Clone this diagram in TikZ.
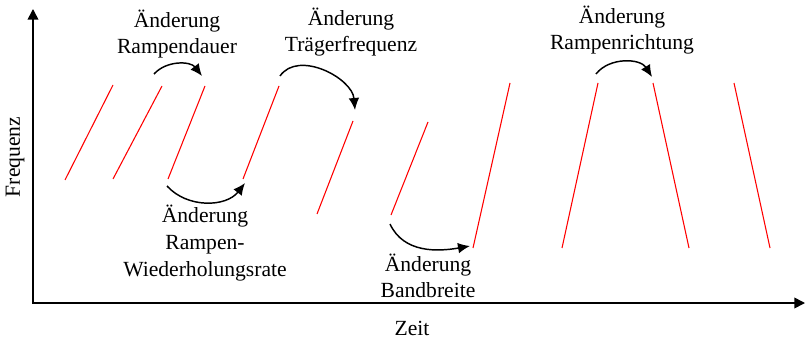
\documentclass[tikz,border=0pt]{standalone}
\usepackage{fontspec}
\setmainfont{Liberation Serif}
\usepackage{tikz}
\usetikzlibrary{arrows.meta}
\tikzset{
  axis/.style={line width=1.2pt, {Triangle[length=8pt,width=8pt]}-{Triangle[length=8pt,width=8pt]}},
  ramp/.style={red, line width=0.8pt},
  chg/.style={-{Latex[length=9pt,width=8pt]}, line width=1.1pt},
  lbl/.style={inner sep=0pt, align=center, font=\fontsize{16.2pt}{20pt}\selectfont},
}
\begin{document}
\begin{tikzpicture}[x=0.75pt, y=0.75pt]
  \useasboundingbox (0,0) rectangle (805,343);
  % axes
  \coordinate (ytop) at (33,334);
  \coordinate (xend) at (805,40);
  \draw[axis] (ytop) |- (xend);
  \node[lbl, rotate=90] (freq) at (15,186) {Frequenz};
  \node[lbl] (zeit) at (412,15) {Zeit};
  % ramps
  \foreach \i/\xa/\ya/\xb/\yb in {1/65/163/113/258, 2/113/164/162/257, 3/168/164/205/257,
      4/243/164/279/257, 5/317/129/353/222, 6/391/128/428/221, 7/473/95/510/260,
      8/562/95/598/260, 9/653/260/689/95, 10/734/260/770/95} {
    \coordinate (r\i a) at (\xa,\ya);
    \coordinate (r\i b) at (\xb,\yb);
    \draw[ramp] (r\i a) -- (r\i b);
  }
  % changes
  \coordinate (d1) at (154,269); \coordinate (d2) at (202,267);
  \coordinate (t1) at (280,267); \coordinate (t2) at (355,233);
  \coordinate (w1) at (167,157); \coordinate (w2) at (245,160);
  \coordinate (b1) at (390,119); \coordinate (b2) at (470,97);
  \coordinate (k1) at (596,269); \coordinate (k2) at (652,266);
  \draw[chg] (d1) to[bend left=50] (d2);
  \draw[chg] (t1) to[out=55, in=95] (t2);
  \draw[chg] (w1) to[bend right=50] (w2);
  \draw[chg] (b1) to[out=-65, in=190] (b2);
  \draw[chg] (k1) to[bend left=55] (k2);
  \node[lbl] (ldauer) at (177,309) {Änderung\\Rampendauer};
  \node[lbl] (ltraeger) at (351,311) {Änderung\\Trägerfrequenz};
  \node[lbl] (lwdh) at (205,100) {Änderung\\Rampen-\\Wiederholungsrate};
  \node[lbl] (lband) at (428,67) {Änderung\\Bandbreite};
  \node[lbl] (lricht) at (622,313) {Änderung\\Rampenrichtung};
\end{tikzpicture}
\end{document}
